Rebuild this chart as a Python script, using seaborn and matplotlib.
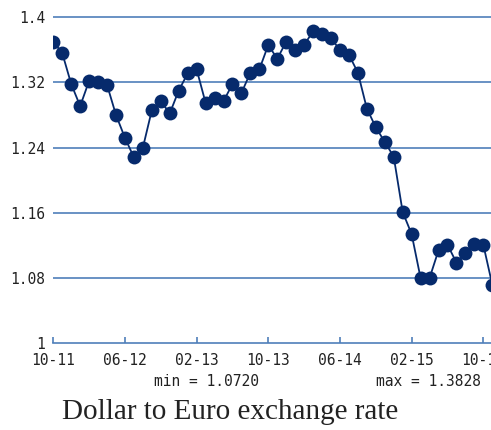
# Dollar to Euro exchange rate, monthly
import seaborn as sns
import matplotlib.pyplot as plt
import pandas as pd

sns.set_theme(style="white")

# monthly values, Oct 2011 .. Nov 2015
months = ["10-11", "11-11", "12-11", "01-12", "02-12", "03-12", "04-12", "05-12",
          "06-12", "07-12", "08-12", "09-12", "10-12", "11-12", "12-12", "01-13",
          "02-13", "03-13", "04-13", "05-13", "06-13", "07-13", "08-13", "09-13",
          "10-13", "11-13", "12-13", "01-14", "02-14", "03-14", "04-14", "05-14",
          "06-14", "07-14", "08-14", "09-14", "10-14", "11-14", "12-14", "01-15",
          "02-15", "03-15", "04-15", "05-15", "06-15", "07-15", "08-15", "09-15",
          "10-15", "11-15"]
rate = [1.370, 1.356, 1.318, 1.291, 1.322, 1.320, 1.317, 1.280, 1.252, 1.228,
        1.240, 1.286, 1.297, 1.282, 1.310, 1.331, 1.336, 1.295, 1.301, 1.297,
        1.318, 1.307, 1.332, 1.336, 1.366, 1.349, 1.370, 1.360, 1.366, 1.3828,
        1.379, 1.374, 1.360, 1.354, 1.332, 1.288, 1.265, 1.247, 1.229, 1.161,
        1.134, 1.080, 1.080, 1.114, 1.121, 1.099, 1.111, 1.122, 1.121, 1.072]
tick_labels = ["10-11", "06-12", "02-13", "10-13", "06-14", "02-15", "10-15"]
y_ticks = [1, 1.08, 1.16, 1.24, 1.32, 1.4]

df = pd.DataFrame({"month": range(len(months)), "rate": rate})

grid_col = "#4f7fba"
line_col = "#062a6c"

fig = plt.figure(figsize=(4.91, 4.30), dpi=100)
ax = fig.add_axes([53.3 / 491, 1 - 343.3 / 430, 1 - 53.3 / 491, 327.3 / 430])

sns.lineplot(data=df, x="month", y="rate", ax=ax, color=line_col, linewidth=1.3,
             marker="o", markersize=10, markeredgewidth=0, markerfacecolor=line_col)

ax.set_xlim(0, 48.86)
ax.set_ylim(1, 1.4015)
ax.set_xticks([months.index(t) for t in tick_labels])
ax.set_xticklabels(tick_labels)
ax.set_yticks(y_ticks)
ax.set_yticklabels(["1", "1.08", "1.16", "1.24", "1.32", "1.4"])
ax.set_xlabel("")
ax.set_ylabel("")

for t in y_ticks[1:]:
    ax.axhline(t, color=grid_col, linewidth=1.2, zorder=0)

for s in ["top", "right", "left"]:
    ax.spines[s].set_visible(False)
ax.spines["bottom"].set_color(grid_col)
ax.spines["bottom"].set_linewidth(1.2)

mono = "DejaVu Sans Mono"
ax.tick_params(axis="x", direction="in", length=4, width=1.2, color=grid_col,
               pad=7, labelsize=10.5, labelcolor="#222222", bottom=True)
ax.tick_params(axis="y", length=0, pad=6, labelsize=10.5, labelcolor="#222222")
for lab in ax.get_xticklabels() + ax.get_yticklabels():
    lab.set_family(mono)

fig.text(207 / 491, 1 - 381 / 430, "min = %.4f" % min(rate), ha="center", va="center",
         family=mono, fontsize=10.5, color="#222222")
fig.text(428 / 491, 1 - 381 / 430, "max = %.4f" % max(rate), ha="center", va="center",
         family=mono, fontsize=10.5, color="#222222")
fig.text(230 / 491, 1 - 412 / 430, "Dollar to Euro exchange rate", ha="center",
         va="center", family="Liberation Serif", fontsize=21, color="#222222")

fig.savefig("out.png", dpi=100)
